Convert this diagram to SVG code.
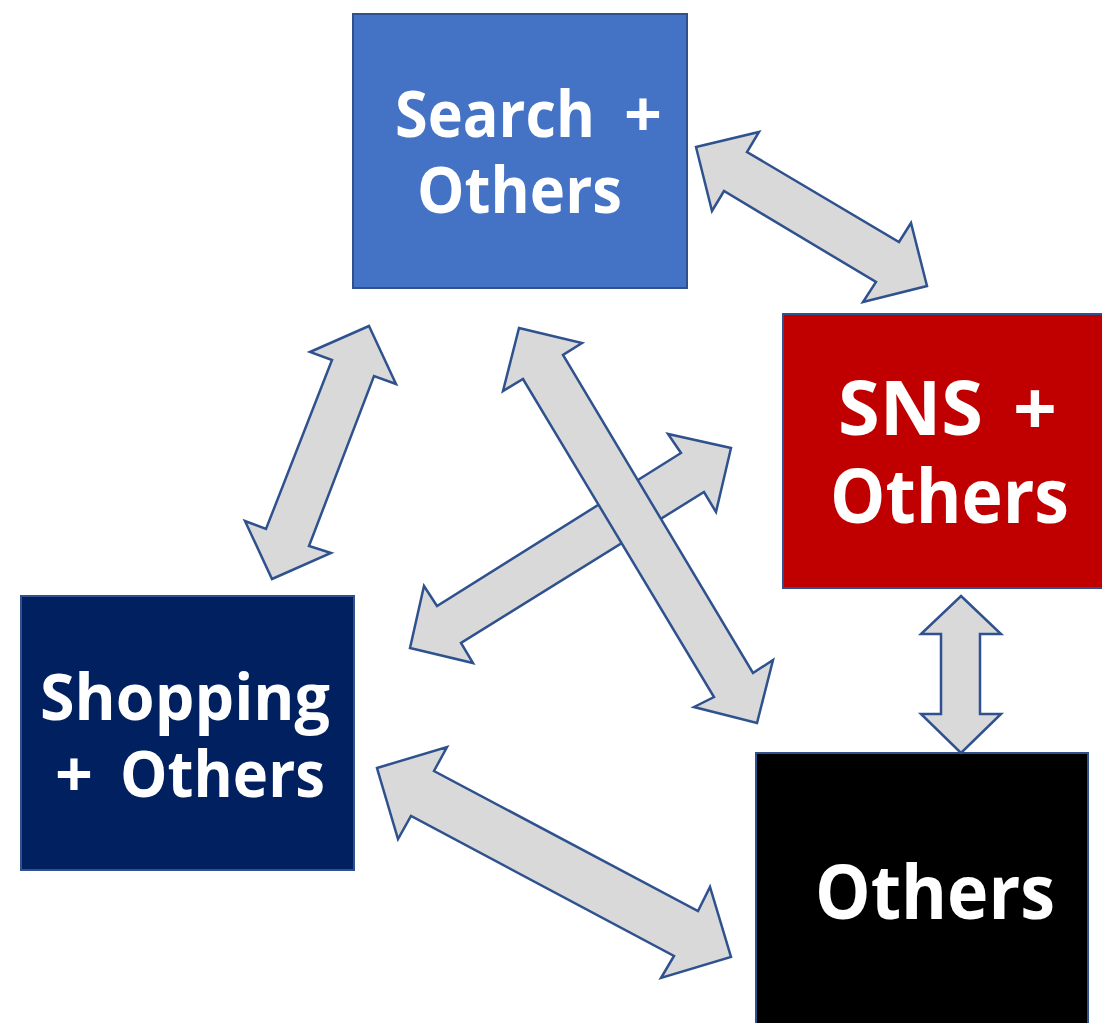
<svg xmlns="http://www.w3.org/2000/svg" width="1102" height="1023" viewBox="0 0 1102 1023">
<style>
.box{stroke:#2F528F;stroke-width:2}
.arr{fill:#D9D9D9;stroke:#2F528F;stroke-width:2.5;stroke-linejoin:miter}
.t{font-family:"Open Sans","Noto Sans","DejaVu Sans",sans-serif;font-weight:bold;fill:#FFFFFF}
.s64{font-size:64px}
.s75{font-size:75px}
</style>
<rect x="0" y="0" width="1102" height="1023" fill="#FFFFFF"/>
<g id="node-search">
<rect class="box" x="353" y="14" width="334" height="274" fill="#4472C4"/>
<text class="t s64"><tspan x="395" y="137" textLength="200" lengthAdjust="spacingAndGlyphs">Search</tspan><tspan x="624" y="137" textLength="38" lengthAdjust="spacingAndGlyphs">+</tspan><tspan x="417" y="213" textLength="205" lengthAdjust="spacingAndGlyphs">Others</tspan></text>
</g>
<g id="node-sns">
<rect class="box" x="783" y="314" width="330" height="274" fill="#C00000"/>
<text class="t s75"><tspan x="838" y="435" textLength="145" lengthAdjust="spacingAndGlyphs">SNS</tspan><tspan x="1013" y="435" textLength="44" lengthAdjust="spacingAndGlyphs">+</tspan><tspan x="830" y="523" textLength="239" lengthAdjust="spacingAndGlyphs">Others</tspan></text>
</g>
<g id="node-shopping">
<rect class="box" x="21" y="596" width="333" height="274" fill="#002060"/>
<text class="t s64"><tspan x="40" y="720" textLength="290" lengthAdjust="spacingAndGlyphs">Shopping</tspan><tspan x="55" y="797" textLength="38" lengthAdjust="spacingAndGlyphs">+</tspan><tspan x="120" y="797" textLength="205" lengthAdjust="spacingAndGlyphs">Others</tspan></text>
</g>
<g id="node-others">
<rect class="box" x="756" y="753" width="332" height="290" fill="#000000"/>
<text class="t s75" x="815" y="919" textLength="240" lengthAdjust="spacingAndGlyphs">Others</text>
</g>
<g id="connectors">
<polygon class="arr" points="696,147 759,132 747,152 899,242 911,223 927,286 863,302 876,282 724,191 712,211"/>
<polygon class="arr" points="369,326 396,384 374,376 309,546 331,553 272,579 245,521 266,529 332,360 310,352"/>
<polygon class="arr" points="961,596 1001,634 980,634 980,714 1001,714 961,753 921,714 941,714 941,634 921,634"/>
<polygon class="arr" points="377,768 447,747 434,771 698,911 710,887 731,957 661,978 674,956 411,816 398,839"/>
<polygon class="arr" points="410,648 473,663 461,643 704,492 716,512 731,448 668,434 681,453 437,606 424,586"/>
<polygon class="arr" points="519,328 582,343 563,355 753,673 773,660 757,723 694,707 714,697 523,379 503,391"/>
</g>
</svg>
